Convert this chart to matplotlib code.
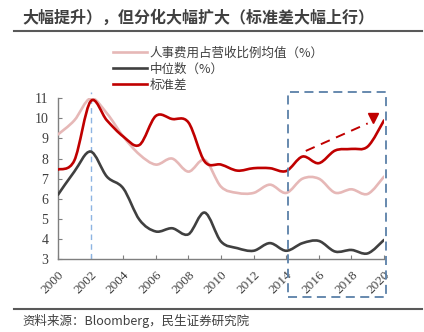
import numpy as np
import matplotlib
matplotlib.use("Agg")
import matplotlib.pyplot as plt
from matplotlib.path import Path
from matplotlib.patches import PathPatch, Rectangle
from matplotlib.lines import Line2D

plt.rcParams['font.family'] = ['Noto Sans CJK SC', 'DejaVu Sans']

# data
years = list(range(2000, 2021))
mean_ratio = [9.2, 9.9, 11.0, 10.25, 9.1, 8.2, 7.7, 8.0, 7.35, 7.93, 6.6,
              6.29, 6.29, 6.7, 6.29, 7.0, 7.0, 6.3, 6.47, 6.24, 7.1]
median = [6.2, 7.35, 8.35, 7.1, 6.52, 4.95, 4.37, 4.53, 4.23, 5.31, 3.87,
          3.54, 3.41, 3.79, 3.41, 3.79, 3.9, 3.37, 3.45, 3.28, 3.95]
std_dev = [7.45, 7.9, 10.85, 9.9, 9.1, 8.68, 10.12, 9.97, 9.8, 7.85, 7.7,
           7.4, 7.52, 7.52, 7.38, 8.1, 7.77, 8.4, 8.48, 8.6, 9.9]
labels = ['人事费用占营收比例均值（%）', '中位数（%）', '标准差']
colors = ['#e6b8b7', '#404040', '#c00000']
xticks = list(range(2000, 2021, 2))


def smooth_path(x, y):
    # Catmull-Rom -> cubic bezier, like Excel smoothed lines
    x = np.asarray(x, float)
    y = np.asarray(y, float)
    verts = [(x[0], y[0])]
    codes = [Path.MOVETO]
    n = len(x)
    for i in range(n - 1):
        p0 = (x[max(i - 1, 0)], y[max(i - 1, 0)])
        p1 = (x[i], y[i])
        p2 = (x[i + 1], y[i + 1])
        p3 = (x[min(i + 2, n - 1)], y[min(i + 2, n - 1)])
        c1 = (p1[0] + (p2[0] - p0[0]) / 6, p1[1] + (p2[1] - p0[1]) / 6)
        c2 = (p2[0] - (p3[0] - p1[0]) / 6, p2[1] - (p3[1] - p1[1]) / 6)
        verts += [c1, c2, p2]
        codes += [Path.CURVE4] * 3
    return Path(verts, codes)


fig = plt.figure(figsize=(4.24, 3.32), dpi=100)
ax = fig.add_axes([0.1368, 0.2199, 0.7689, 0.484])

for ys, c in zip([mean_ratio, median, std_dev], colors):
    ax.add_patch(PathPatch(smooth_path(years, ys), facecolor='none',
                           edgecolor=c, lw=1.9, capstyle='round', zorder=3))

ax.set_xlim(2000, 2020)
ax.set_ylim(3, 11)
ax.set_xticks(xticks)
ax.set_xticklabels([str(t) for t in xticks], rotation=45, ha='right',
                   rotation_mode='anchor', family='Liberation Serif', fontsize=9.5,
                   color='#404040')
ax.set_yticks(range(3, 12))
ax.set_yticklabels([str(t) for t in range(3, 12)], family='Liberation Serif',
                   fontsize=10, color='#404040')
ax.tick_params(direction='in', length=3, color='#7f7f7f', width=0.8)
ax.tick_params(axis='x', pad=7)
ax.tick_params(axis='y', pad=7)
for s in ['top', 'right']:
    ax.spines[s].set_visible(False)
for s in ['left', 'bottom']:
    ax.spines[s].set_color('#7f7f7f')
    ax.spines[s].set_linewidth(1.0)

# vertical marker at 2002
ax.plot([2002, 2002], [3, 11.3], ls=(0, (4, 3)), color='#8db4e2', lw=1.0,
        clip_on=False, zorder=2)

# dashed box over 2014-2020
ax.add_patch(Rectangle((2014.1, 1.1), 6.05, 10.23, fill=False,
                       edgecolor='#5a80a8', lw=1.3, ls=(0, (5, 3)),
                       clip_on=False, zorder=4))

# red dashed trend arrow
ax.plot([2015.2, 2019.0], [8.38, 9.75], ls=(0, (5, 3.5)), color='#c00000',
        lw=1.4, zorder=4)
ax.plot([2019.33], [10.0], marker='v', markersize=7, color='#c00000', zorder=4)

handles = [Line2D([], [], color=c, lw=1.9) for c in colors]
fig.legend(handles, labels, loc='upper left', bbox_to_anchor=(0.255, 0.875),
           frameon=False, fontsize=9, handlelength=2.7, handletextpad=0.2,
           labelspacing=0.25, borderaxespad=0, labelcolor='#404040')

fig.text(0.052, 0.948, '大幅提升），但分化大幅扩大（标准差大幅上行）',
         fontsize=11.5, fontweight='bold', color='#404040', va='center')
fig.add_artist(Line2D([0.032, 0.995], [0.907, 0.907], color='#595959', lw=1.5))
fig.add_artist(Line2D([0.032, 0.995], [0.069, 0.069], color='#595959', lw=1.5))
fig.text(0.052, 0.034, '资料来源：Bloomberg，民生证券研究院', fontsize=9,
         color='#404040', va='center')

fig.savefig('out.png', dpi=100)
